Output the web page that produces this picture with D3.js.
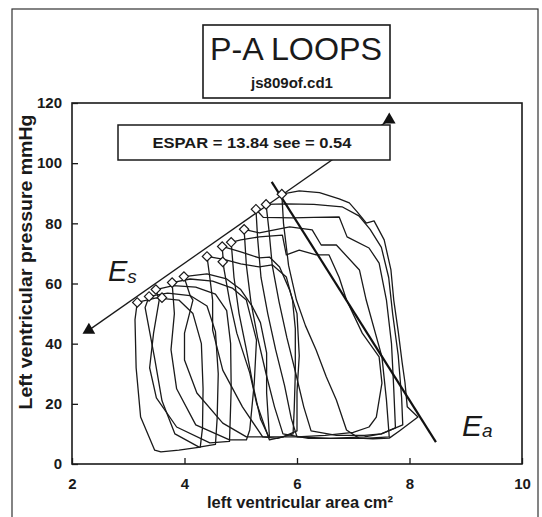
<!DOCTYPE html>
<html>
<head>
<meta charset="utf-8">
<script src="https://d3js.org/d3.v7.min.js"></script>
<style>
  body { margin: 0; background: #fff; }
  text { font-family: "Liberation Sans", Arial, sans-serif; fill: #1a1a1a; }
</style>
</head>
<body>
<div id="chart"></div>
<script>
// axis ticks
const xTicks = [2, 4, 6, 8, 10];
const yTicks = [0, 20, 40, 60, 80, 100, 120];

// P-A loops, [area cm2, pressure mmHg]
const loop1 = [[5.73,89.7],[5.76,80],[5.85,66],[5.99,54.5],[6.15,46],[6.34,37.9],[6.52,29],[6.70,21.3],[6.88,11.3],[7.1,8.6],[7.35,8.4],[7.64,8.6],[7.82,11],[8.15,15.6],[7.96,19],[7.92,27],[7.87,33.6],[7.8,44],[7.72,54.5],[7.67,64.5],[7.55,74.5],[7.37,80.8],[7.23,80.1],[7.07,83.8],[6.93,86.8],[6.75,88.1],[6.4,90.2],[6.04,90.8],[5.73,89.7]];
const loop2 = [[5.45,86.3],[5.5,78],[5.56,66],[5.68,54],[5.82,42],[5.98,30],[6.12,19],[6.25,11],[6.7,9.5],[7.2,9.5],[7.5,10],[7.88,13],[7.86,22],[7.8,36],[7.7,50],[7.63,62],[7.5,72],[7.3,78],[7.1,82.5],[6.8,85.5],[6.3,86.3],[5.8,86.5],[5.45,86.3]];
const loop3 = [[5.27,84.7],[5.3,75],[5.36,62],[5.48,50],[5.62,38],[5.78,26],[5.9,15],[6.0,9],[6.6,8.5],[7.2,9],[7.5,10],[7.75,12],[7.72,25],[7.68,40],[7.59,54.5],[7.46,66.8],[7.28,71.8],[6.89,75.5],[6.75,82.1],[6.3,82],[5.92,81.8],[5.4,82],[5.27,84.7]];
const loop4 = [[5.06,78],[5.1,66],[5.18,54],[5.3,42],[5.45,30],[5.6,19],[5.75,10],[6.2,8.5],[6.7,8.5],[7.2,8.5],[7.64,9],[7.59,21.3],[7.51,35.6],[7.23,54.5],[7.11,64.5],[6.70,72.8],[6.43,72.8],[6.27,77.8],[5.87,78.8],[5.33,76.8],[5.06,78]];
const loop5 = [[4.83,73.7],[4.88,62],[4.97,50],[5.1,38],[5.22,26],[5.35,15],[5.5,9],[6.0,9],[6.5,9.5],[7.0,10.5],[7.28,12.3],[7.41,15.6],[7.51,26.9],[7.46,35.6],[7.16,43.5],[6.88,54.5],[6.75,62],[6.57,69.5],[6.34,69.5],[6.04,71.1],[5.81,69.5],[5.74,76.1],[5.33,75.5],[5.0,74.5],[4.83,73.7]];
const loop6 = [[4.67,72.3],[4.7,65],[4.8,54.5],[4.93,43.5],[5.16,30.3],[5.28,20.3],[5.51,8],[5.75,9],[6.0,11],[6.0,24],[6.04,36],[6.0,50],[5.87,57.8],[5.69,65.5],[5.51,68.8],[5.33,68.5],[5.0,70.5],[4.67,72.3]];
const loop7 = [[4.4,69],[4.45,62],[4.5,54.5],[4.5,44.5],[4.68,31.2],[5.03,19],[5.39,9],[5.65,8.5],[5.93,10],[5.95,18],[5.97,30],[5.97,45],[5.92,54.5],[5.81,62.2],[5.56,66.2],[5.33,65.5],[5.0,66.5],[4.7,68],[4.4,69]];
const loop8 = [[3.99,62.3],[4.1,56],[4.15,54.5],[4.0,43.5],[4.0,34.6],[4.22,23.6],[4.68,13.6],[5.1,9],[5.51,9],[5.46,23.6],[5.46,36.9],[5.35,47],[5.21,52.2],[5.0,58],[4.75,61.5],[4.4,63.2],[3.99,62.3]];
const loop9 = [[3.78,60.3],[3.82,50],[3.76,38],[3.86,25],[4.2,13],[4.8,8],[5.1,8],[5.16,11.3],[5.24,26.9],[5.28,41.2],[5.10,54.5],[4.85,58.5],[4.5,60.8],[4.1,61.5],[3.78,60.3]];
const loop10 = [[3.49,58],[3.55,54.5],[3.45,43.5],[3.38,32],[3.5,22],[3.86,12.3],[4.45,7],[4.8,7.5],[4.83,25],[4.82,40],[4.75,51],[4.55,56.5],[4.2,58.8],[3.8,59.3],[3.49,58]];
const loop11 = [[3.37,55.7],[3.3,52],[3.47,35],[3.6,21],[3.83,10],[4.26,5.6],[4.55,6.5],[4.58,15],[4.6,30],[4.55,44],[4.4,52.5],[4.1,56],[3.7,56.8],[3.37,55.7]];
const loop12 = [[3.16,53.7],[3.12,48],[3.14,32],[3.22,15.6],[3.47,4.6],[3.58,4],[3.9,4.6],[4.28,5.6],[4.32,12],[4.33,25],[4.3,40],[4.15,50],[3.9,54.5],[3.5,55.2],[3.16,53.7]];
const loops = [loop1, loop2, loop3, loop4, loop5, loop6, loop7, loop8, loop9, loop10, loop11, loop12];

// end-systolic points (diamonds)
const esPoints = [[5.73,89.7],[5.45,86.3],[5.27,84.7],[5.06,78],[4.83,73.7],[4.67,72.3],[4.68,67.2],[4.4,69],[3.99,62.3],[3.78,60.3],[3.6,55.3],[3.49,58],[3.37,55.7],[3.16,53.7]];

// regression line ends (triangles) and arterial elastance line
const esparLine = [[2.3,44.5],[7.64,114.4]];
const eaLine = [[5.55,93.8],[8.47,7.3]];

const titleText = "P-A LOOPS";
const fileText = "js809of.cd1";
const esparText = "ESPAR = 13.84  see = 0.54";

const width = 542, height = 517;
const svg = d3.select("#chart")
  .append("svg")
  .attr("width", width)
  .attr("height", height);

// outer frame of the page
svg.append("rect")
  .attr("x", 12).attr("y", 9)
  .attr("width", 526).attr("height", 530)
  .attr("fill", "none")
  .attr("stroke", "#333")
  .attr("stroke-width", 1.2);

const x = d3.scaleLinear().domain([2, 10]).range([72, 522]);
const y = d3.scaleLinear().domain([0, 120]).range([464, 103]);

// plot frame
svg.append("rect")
  .attr("x", x(2)).attr("y", y(120))
  .attr("width", x(10) - x(2)).attr("height", y(0) - y(120))
  .attr("fill", "none")
  .attr("stroke", "#1a1a1a")
  .attr("stroke-width", 1.6);

// axes, ticks point inward
const xAxis = svg.append("g")
  .attr("transform", `translate(0,${y(0)})`)
  .call(d3.axisBottom(x).tickValues(xTicks).tickSizeInner(-6).tickSizeOuter(0).tickPadding(14));
const yAxis = svg.append("g")
  .attr("transform", `translate(${x(2)},0)`)
  .call(d3.axisLeft(y).tickValues(yTicks).tickSizeInner(-6).tickSizeOuter(0).tickPadding(10));
[xAxis, yAxis].forEach(g => {
  g.select(".domain").remove();
  g.selectAll("line").attr("stroke", "#1a1a1a").attr("stroke-width", 1.3);
  g.selectAll("text")
    .attr("font-family", "Liberation Sans, Arial, sans-serif")
    .attr("font-size", 15)
    .attr("font-weight", "bold")
    .attr("fill", "#1a1a1a");
});

// axis titles
svg.append("text")
  .attr("transform", "translate(32,262) rotate(-90)")
  .attr("text-anchor", "middle")
  .attr("font-size", 18)
  .attr("font-weight", "bold")
  .attr("textLength", 295)
  .attr("lengthAdjust", "spacingAndGlyphs")
  .text("Left ventricular pressure mmHg");

svg.append("text")
  .attr("x", 300).attr("y", 508)
  .attr("text-anchor", "middle")
  .attr("font-size", 16.5)
  .attr("font-weight", "bold")
  .attr("textLength", 186)
  .attr("lengthAdjust", "spacingAndGlyphs")
  .text("left ventricular area cm²");

// loops
const line = d3.line()
  .x(d => x(d[0]))
  .y(d => y(d[1]));

svg.append("g")
  .selectAll("path")
  .data(loops)
  .join("path")
  .attr("d", line)
  .attr("fill", "none")
  .attr("stroke", "#1a1a1a")
  .attr("stroke-width", 1.3)
  .attr("stroke-linejoin", "round");

// ESPAR regression line and Ea line
svg.append("path")
  .attr("d", line(esparLine))
  .attr("stroke", "#1a1a1a")
  .attr("stroke-width", 1.3);
svg.append("path")
  .attr("d", line(eaLine))
  .attr("stroke", "#111")
  .attr("stroke-width", 2.2);

// end-systolic diamonds
svg.append("g")
  .selectAll("path")
  .data(esPoints)
  .join("path")
  .attr("d", d3.symbol(d3.symbolSquare, 44))
  .attr("transform", d => `translate(${x(d[0])},${y(d[1])}) rotate(45)`)
  .attr("fill", "#fff")
  .attr("stroke", "#1a1a1a")
  .attr("stroke-width", 1.2);

// triangles at the ends of the regression line
svg.append("g")
  .selectAll("path")
  .data(esparLine)
  .join("path")
  .attr("d", d3.symbol(d3.symbolTriangle, 70))
  .attr("transform", d => `translate(${x(d[0])},${y(d[1])})`)
  .attr("fill", "#111");

// ESPAR box
svg.append("rect")
  .attr("x", 118).attr("y", 125)
  .attr("width", 272).attr("height", 35)
  .attr("fill", "#fff")
  .attr("stroke", "#1a1a1a")
  .attr("stroke-width", 1.5);
svg.append("text")
  .attr("x", 252).attr("y", 148)
  .attr("text-anchor", "middle")
  .attr("font-size", 15)
  .attr("font-weight", "bold")
  .attr("textLength", 199)
  .attr("lengthAdjust", "spacingAndGlyphs")
  .text(esparText);

// title box
svg.append("rect")
  .attr("x", 203).attr("y", 25)
  .attr("width", 187).attr("height", 73)
  .attr("fill", "#fff")
  .attr("stroke", "#1a1a1a")
  .attr("stroke-width", 1.6);
svg.append("text")
  .attr("x", 296).attr("y", 60)
  .attr("text-anchor", "middle")
  .attr("font-size", 31)
  .attr("textLength", 172)
  .attr("lengthAdjust", "spacingAndGlyphs")
  .text(titleText);
svg.append("text")
  .attr("x", 292).attr("y", 88)
  .attr("text-anchor", "middle")
  .attr("font-size", 15)
  .attr("font-weight", "bold")
  .attr("textLength", 82)
  .attr("lengthAdjust", "spacingAndGlyphs")
  .text(fileText);

// handwritten labels
const es = svg.append("text")
  .attr("x", 108).attr("y", 281)
  .attr("font-family", "DejaVu Serif, serif")
  .attr("font-style", "italic")
  .attr("font-size", 29);
es.append("tspan").text("E");
es.append("tspan").attr("font-size", 19).attr("dy", 2).text("s");

const ea = svg.append("text")
  .attr("x", 462).attr("y", 436)
  .attr("font-family", "DejaVu Serif, serif")
  .attr("font-style", "italic")
  .attr("font-size", 30);
ea.append("tspan").text("E");
ea.append("tspan").attr("font-size", 19).attr("dy", 1).text("a");
</script>
</body>
</html>
